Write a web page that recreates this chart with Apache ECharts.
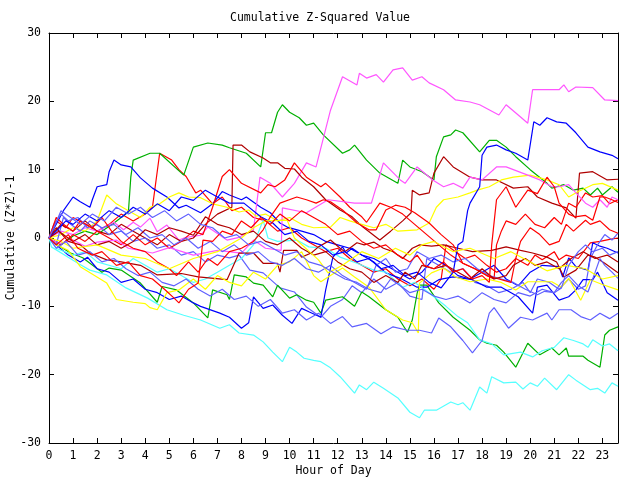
<!DOCTYPE html>
<html><head><meta charset="utf-8">
<script src="https://cdn.jsdelivr.net/npm/echarts@6/dist/echarts.min.js"></script>
<style>html,body{margin:0;padding:0;background:#fff}#c{width:640px;height:480px}</style>
</head><body><div id="c"></div>
<script>
// Axis ranges / ticks
const xMin = 0, xMax = 23.65, xStep = 1;
const yMin = -30, yMax = 30, yStep = 10;

// Series: [hour, cumulative value]
const magA = [[0,0],[0.5,1],[1,0.5],[1.5,1.5],[2,1],[2.7,2.3],[3.1,1.2],[3.5,2.3],[3.8,1.6],[4.2,2.9],[4.5,0.9],[4.9,1.9],[5.4,-0.3],[5.7,0.1],[6.3,0.4],[6.6,1.6],[7.4,-0.3],[7.9,0.1],[8.5,1.2],[8.77,8.9],[9.2,8],[9.7,6],[10.2,8],[10.7,11],[11.1,10.4],[11.7,18.7],[12.2,23.6],[12.8,22.4],[12.9,24.1],[13.2,23.4],[13.6,23.9],[13.9,22.8],[14.3,24.6],[14.7,24.9],[15.1,23.1],[15.5,23.6],[15.8,22.7],[16.4,21.7],[16.9,20.2],[17.5,19.9],[17.9,19.5],[18.7,18],[19,19.5],[19.6,17.7],[19.9,16.8],[20.1,21.7],[21.2,21.7],[21.4,22.4],[21.6,21.4],[21.9,22.1],[22.6,22],[23.1,20.2],[23.65,20.1]];
const magB = [[0,0],[0.4,-0.8],[1,-0.3],[1.5,-1.2],[2,-0.6],[2.8,-0.3],[3.3,-1.5],[4.3,-2.2],[5,-1.4],[6,-2.5],[7,-1.8],[8,-2.2],[8.5,-0.3],[9,-1.5],[9.65,-1.8],[9.7,4.4],[10.7,3.7],[11.6,5.6],[12.7,5.1],[13.4,5.1],[13.9,11],[14.6,8.5],[14.8,8],[15.3,10.4],[15.95,8.5],[16.4,7.5],[16.8,8],[17.2,7.3],[17.5,8.9],[18,8.5],[18.6,10.4],[19,10.4],[19.9,9.2],[20.4,8.5],[20.9,7.5],[21.2,7.5],[21.6,7.8],[21.9,6.6],[22.3,5.1],[22.6,4.5],[22.9,5.6],[23.2,4.5],[23.4,6],[23.65,5.6]];
const grnC = [[0,0],[0.5,-1],[1,0.3],[1.5,1],[2,0.5],[2.7,2.2],[3.3,3.8],[3.4,8.9],[3.5,11.4],[4.2,12.4],[4.6,12.4],[5.6,9.2],[6.0,13.3],[6.6,13.9],[7.2,13.6],[7.5,13.2],[8.2,12.4],[8.8,10.4],[9.0,15.4],[9.25,15.4],[9.5,18.4],[9.7,19.5],[10,18.4],[10.4,17.6],[10.7,16.5],[11,16.8],[11.4,15.1],[12.2,12.4],[12.5,12.9],[12.7,13.6],[13.2,11.4],[13.75,9.5],[14.5,8],[14.7,11.4],[15,10.4],[15.5,9.7],[16,8.5],[16.1,11.9],[16.4,14.8],[16.7,15.1],[16.9,15.8],[17.2,15.4],[17.9,12.6],[18.3,14.3],[18.6,14.3],[19,13.3],[19.4,11.9],[20,10],[20.7,8],[20.9,7.3],[21.4,7.8],[21.8,7],[22.2,7.3],[22.5,6.3],[22.8,7.3],[23,6.3],[23.4,7.5],[23.65,6.7]];
const grnD = [[0,0],[0.2,-0.7],[0.9,-2.2],[1.4,-2.9],[2.2,-5],[2.5,-4.4],[3,-4.7],[3.8,-6.6],[4.5,-9.4],[4.7,-7.1],[5.3,-7.6],[6,-9.5],[6.6,-11.7],[6.8,-7.6],[7.4,-8.3],[7.5,-9],[7.7,-5.4],[8.2,-5.7],[8.5,-6.6],[8.9,-6.9],[9.3,-8.6],[9.5,-6.9],[10,-8.8],[10.3,-8.3],[10.7,-9.1],[11,-9.4],[11.3,-11],[11.5,-9.1],[12.2,-8.6],[12.7,-10],[13,-7.9],[13.3,-8.6],[14,-10.5],[14.5,-11.6],[14.9,-13.8],[15.1,-12],[15.3,-8.1],[15.4,-6.9],[15.7,-6.9],[16.2,-9.5],[16.8,-11.6],[17.5,-13.5],[17.9,-14.9],[18.2,-15.4],[18.6,-15.7],[18.9,-16.7],[19.4,-18.9],[19.9,-15.4],[20.4,-17.1],[20.9,-16.1],[21.2,-17.1],[21.5,-16.1],[21.6,-17.3],[22.2,-17.3],[22.4,-17.9],[22.9,-18.9],[23.1,-14.2],[23.3,-13.5],[23.65,-13]];
const cyanE = [[0,0],[0.1,-1.3],[1.2,-3.7],[1.7,-4.7],[2.4,-5.4],[3.2,-7.3],[4.1,-8.8],[4.9,-10.5],[5.6,-11.3],[6.3,-12],[7.1,-13.2],[7.5,-12.7],[7.9,-13.9],[8.5,-14.2],[8.9,-15.2],[9.3,-16.7],[9.7,-18.1],[10,-16],[10.3,-16.7],[10.6,-17.6],[11,-17.9],[11.3,-18.1],[11.7,-19],[12.1,-20.3],[12.7,-22.7],[12.9,-21.5],[13.2,-22.2],[13.5,-21.1],[13.9,-22],[14.5,-23.4],[15,-25.5],[15.4,-26.3],[15.6,-25.2],[16.1,-25.2],[16.7,-24],[17,-24.4],[17.2,-24.1],[17.5,-25.2],[17.9,-21.8],[18.2,-22.7],[18.4,-20.3],[18.9,-21.2],[19.4,-21.1],[19.7,-22.1],[20,-21.2],[20.3,-21.7],[20.6,-20.5],[21.1,-22.2],[21.6,-20],[21.9,-20.8],[22.5,-22.2],[22.8,-22],[23.1,-22.7],[23.4,-21.2],[23.65,-21.7]];
const cyanB = [[0,0],[0.3,-1.5],[1,-2.5],[1.5,-2],[2,-3.5],[3,-4.5],[3.5,-3],[4,-4],[4.5,-5],[5,-4.5],[5.5,-5.5],[6,-6.5],[6.5,-6],[7,-5],[7.5,-4],[8,-3],[8.5,-1],[8.9,2.6],[9.1,0],[9.5,-0.5],[10.3,-0.3],[10.8,-1.3],[11.5,-1.5],[12.1,-2.8],[12.8,-3.7],[13.5,-4.7],[14,-5],[14.7,-7.2],[15.2,-6.5],[15.6,-7.5],[16,-8.6],[16.5,-10],[17,-11.5],[17.4,-12.4],[17.9,-14.9],[18.4,-15.5],[18.9,-17.1],[19.6,-16.7],[20.1,-17.4],[20.5,-16.5],[21,-16],[21.4,-14.6],[21.8,-15],[22.2,-15.5],[22.4,-16],[22.6,-14.9],[23,-15.8],[23.3,-15.5],[23.65,-16.5]];
const blueF = [[0,0],[0.3,1],[0.7,2.5],[1,2],[1.5,3.5],[2,2.5],[2.5,4],[3,3],[3.5,4.5],[4,3.5],[4.5,5],[5,4],[5.5,6],[6,5.5],[6.5,7],[7,6],[7.5,5.1],[8.1,5.1],[8.8,3.1],[9.3,2.2],[9.8,0.5],[10.3,1],[10.8,-0.5],[11.3,-1],[11.8,-2.5],[12.3,-2],[12.8,-3.5],[13.3,-3],[13.8,-4.5],[14.3,-4],[14.8,-5.5],[15.3,-5],[15.8,-6.5],[16.3,-7.3],[16.8,-5],[17,-1],[17.2,-0.5],[17.4,4],[17.5,5.1],[17.9,7.5],[18,12.1],[18.2,13.3],[18.6,13.6],[19,12.9],[19.4,12.4],[19.9,11.4],[20.15,17],[20.4,16.5],[20.7,17.6],[21.1,17],[21.5,16.8],[21.9,15.4],[22.4,13.3],[22.9,12.6],[23.4,12.1],[23.65,11.6]];
const blueK = [[0,0],[0.3,2],[0.6,4],[1,6],[1.3,5.3],[1.7,4.5],[1.8,5.6],[2,7.5],[2.4,7.8],[2.5,9.7],[2.7,11.4],[3,10.7],[3.4,10.4],[3.8,8.8],[4.3,7.3],[4.9,6],[5.4,4.4],[5.7,4.8],[6.3,3.7],[6.8,5],[7.2,6.8],[7.5,6.3],[8,5.6],[8.2,6],[8.8,4.5],[9.2,3.7],[9.6,2.2],[9.9,1.6],[10.5,1],[11,0.5],[11.5,-0.5],[12,-1],[12.5,-1.5],[13,-2.5],[13.5,-3],[14,-4],[14.5,-5],[15,-6],[15.5,-5],[16,-3],[16.5,-4],[17,-5.5],[17.5,-6],[18,-5],[18.5,-4],[19,-6],[19.5,-7],[20,-5],[20.5,-4],[21.2,-4.2],[21.35,-5.7],[21.6,-2.9],[21.9,-4.2],[22.4,-4.7],[22.6,-0.7],[22.9,-1.2],[23.2,-1.5],[23.65,-2.2]];
const blueJ = [[0,0],[0.3,-1],[0.8,-2.5],[1.3,-3.5],[1.6,-2.8],[2,-4.5],[2.5,-5],[3,-6.5],[3.5,-6],[4,-7.5],[4.5,-8],[5,-9],[5.5,-8.5],[6,-9.5],[6.3,-10],[7.1,-11],[7.5,-11.6],[8,-13.2],[8.3,-12.4],[8.5,-8.6],[8.9,-10.3],[9.3,-9.8],[9.7,-11.3],[10.1,-12.5],[10.5,-10.3],[10.8,-10.8],[11.3,-11.6],[11.5,-7.6],[11.7,-4.4],[11.8,-2.8],[12.2,-1.3],[12.35,-2.2],[12.6,-1.5],[13,-2.5],[13.5,-3.5],[14,-5.1],[14.6,-5.9],[15.3,-7.2],[15.7,-7.2],[16.2,-6.1],[16.8,-5.7],[17.6,-6.1],[18.2,-7.2],[18.8,-7.2],[19.5,-8.6],[20.1,-11],[20.3,-7.2],[20.7,-6.9],[21.2,-9.1],[21.6,-8.6],[21.9,-7.6],[22.2,-6.1],[22.6,-6.1],[22.8,-5],[23.2,-8],[23.65,-9.1]];
const lbA = [[0,0],[0.2,2],[0.5,3.5],[0.8,2.5],[1.2,3],[1.6,1.5],[2,2],[2.5,0.5],[3,1],[3.5,-0.5],[4,0],[4.5,-1.5],[5,-1],[5.5,-2.5],[6,-2],[6.5,-3.5],[7,-2.5],[7.5,-2.9],[7.9,-2.5],[8.35,-4.7],[8.9,-5.1],[9.6,-7.3],[10.2,-7.9],[10.7,-10.1],[11.3,-11.6],[11.7,-10],[12.2,-9],[12.6,-7],[13,-8],[13.5,-6],[14,-7.5],[14.5,-6.5],[15,-8.5],[15.5,-9],[15.7,-3],[16.2,-4],[16.7,-5],[17.2,-4.5],[17.7,-6.5],[18.2,-7],[18.7,-8],[19.2,-7.5],[19.7,-6.5],[20,-8],[20.3,-6],[20.8,-6.5],[21.2,-7.5],[21.6,-6],[22,-7.5],[22.3,-7],[22.5,-3],[22.8,-1],[23.1,0.5],[23.4,-0.3],[23.65,0.7]];
const lbB = [[0,0],[0.3,-1],[0.6,3],[0.9,2],[1.3,1],[1.7,2.5],[2.2,1.5],[2.7,2],[3.2,0.5],[3.7,1.5],[4.2,0],[4.7,0.5],[5.2,-1],[5.7,0],[6.2,-1.5],[6.7,-0.5],[7.2,-2],[7.7,-1],[8.2,-2.5],[8.7,-2],[9.2,-3.5],[9.7,-4],[10.2,-3],[10.7,-4.5],[11.2,-5],[11.7,-4],[12.2,-5.5],[12.7,-6.5],[13.2,-7.5],[13.6,-4],[14,-3],[14.4,-5],[14.9,-4.5],[15.3,-2],[15.8,-3],[16.3,-2.5],[16.8,-3.5],[17.3,-3],[17.8,-4.5],[18.3,-5.5],[18.8,-6],[19.3,-6.5],[19.8,-7.5],[20.3,-8.3],[20.6,-7.8],[21,-8],[21.3,-6.5],[21.6,-5.5],[22,-7],[22.4,-7.9],[22.7,-5],[22.9,-3],[23.1,-4],[23.4,-5],[23.65,-5.9]];
const lbC = [[0,0],[0.3,-1.5],[0.7,-0.5],[1.2,-2.5],[1.7,-2],[2.2,-3.5],[2.7,-3],[3.2,-4.5],[3.7,-5.5],[4.2,-5],[4.7,-6.5],[5.2,-7],[5.7,-6],[6.2,-7.5],[6.7,-8.5],[7.2,-7.5],[7.7,-9],[8.2,-8.5],[8.7,-10],[9.2,-9],[9.7,-11],[10.2,-10.5],[10.7,-12],[11.2,-11],[11.7,-12.5],[12.2,-11.5],[12.6,-13],[13.2,-12.5],[13.8,-14],[14.3,-13],[14.9,-13.5],[15.4,-13.5],[15.9,-13.9],[16.2,-11.7],[16.7,-13],[17.2,-15],[17.6,-16.8],[18,-15],[18.3,-11],[18.5,-10.2],[19.1,-13.2],[19.6,-11.6],[20.1,-12],[20.7,-11],[20.9,-12],[21.2,-10.5],[21.7,-10.5],[22.1,-11.5],[22.5,-12],[22.9,-11],[23.3,-11.8],[23.65,-11]];
const lbD = [[0,0],[0.2,1.5],[0.5,4],[0.9,3],[1.3,2],[1.8,3.5],[2.3,2.5],[2.8,4.5],[3.3,3.5],[3.8,4.5],[4.3,3],[4.8,4],[5.3,2.5],[5.8,3.5],[6.3,2],[6.8,1.5],[7.3,0],[7.8,0.5],[8.3,-1],[8.8,-0.5],[9.3,-1.5],[9.8,-2.5],[10.3,-2],[10.8,-3.5],[11.3,-4],[11.8,-5],[12.3,-6],[12.8,-6.5],[13.3,-7.5],[13.8,-8],[14.2,-6],[14.6,-7],[15,-8],[15.5,-7.5],[16,-8.5],[16.5,-9],[17,-8.5],[17.5,-9.5],[18,-8],[18.5,-9],[19,-9.5],[19.5,-8],[20,-8.5],[20.5,-7.5],[21,-8],[21.3,-7.3],[21.6,-4],[22,-2],[22.3,-1],[22.6,-2],[23,-1.5],[23.3,-2.5],[23.65,-2]];
const yelA = [[0,0],[0.5,0.5],[1,1.5],[1.5,1],[2,2.5],[2.4,6.3],[2.8,5],[3.3,4],[3.8,3],[4.2,4.5],[4.6,5],[5,6],[5.4,6.6],[5.8,6],[6.3,5.9],[6.8,5],[7.4,4.5],[7.9,3.8],[8.3,4.1],[8.6,3.2],[9,3.5],[9.5,2.5],[10,3],[10.5,2],[11,1.5],[11.7,1.6],[12.1,3],[12.5,2.5],[13,2],[13.5,1.5],[14,2],[14.5,1],[15.3,1.2],[15.8,2.2],[16.1,4.5],[16.4,5.6],[17,6],[17.5,6.6],[17.8,7],[18.3,7.5],[18.8,8.5],[19.3,8.9],[20,9.2],[20.7,8.5],[21.2,7.8],[21.6,6],[22,6.8],[22.6,7.8],[23,8],[23.65,7]];
const yelB = [[0,0],[0.3,-1],[0.8,-1.8],[1.3,-4.2],[2.4,-6.6],[2.8,-9],[3.5,-9.4],[4,-9.6],[4.2,-10.2],[4.5,-10.5],[4.9,-8],[5.4,-7.6],[6,-6],[6.5,-7.5],[7,-5.5],[7.5,-6.5],[8,-7],[8.5,-5],[9,-6],[9.5,-4],[10,-3.5],[10.5,-2],[11,-5.5],[11.3,-6.4],[11.7,-5.5],[12.2,-4.4],[12.7,-5.7],[13.3,-7.2],[14,-10.5],[14.7,-12],[15.1,-12.4],[15.35,-13.9],[15.4,-6.6],[15.9,-5.1],[16.4,-4.4],[16.9,-5.7],[17.5,-6.4],[18.2,-6],[18.8,-6.5],[19.4,-7.6],[19.9,-6.4],[20.9,-6.4],[21.3,-7.2],[21.6,-5.9],[22.1,-9.1],[22.5,-6.1],[23,-6.8],[23.65,-7.6]];
const yelC = [[0,0],[0.5,-0.5],[1,-1.5],[2,-1],[3,-2.5],[4,-3],[5,-4.5],[6,-3],[7,-2],[8,0],[8.5,1.5],[9,2.5],[9.9,2.6],[10.2,0],[11.2,-3.2],[11.6,-5.1],[12.2,-4],[13,-2],[13.7,-3],[14.4,-1.5],[15,-2.5],[15.5,-1],[16,-0.5],[16.8,-2],[17.5,-1.5],[18.5,-3],[19.2,-2],[20,-3.5],[20.7,-4.8],[21.5,-4],[22.3,-4.5],[23,-6],[23.65,-5.5]];
const drG = [[0,0],[0.5,2],[1,1],[1.5,2.5],[2,1],[2.5,0.5],[3,2],[3.5,1],[4,0],[4.5,-1],[5,0.5],[5.5,-0.5],[6,0],[6.5,2],[7,3.5],[7.6,4.5],[7.65,13.6],[8,13.6],[8.35,12.6],[8.9,11.7],[9.2,11],[9.5,11],[9.8,10.2],[10.2,10.1],[10.5,8.9],[11,7.5],[11.5,5.6],[12.1,4.1],[12.6,3.1],[13.05,1.6],[13.75,-0.3],[14.2,1],[14.7,2.5],[15.05,3.7],[15.1,7],[15.4,6.3],[15.8,6.6],[16,9.5],[16.4,11.9],[16.8,10.4],[17.5,8.9],[18,8.5],[18.6,8.5],[19.3,7.3],[19.9,7.5],[20.3,6],[20.9,5.1],[21.5,4.4],[21.9,2.9],[22.05,9.5],[22.6,9.7],[23.2,8.5],[23.65,8.6]];
const drH = [[0,0],[0.3,1.5],[0.8,-0.5],[1.3,-1],[1.7,-2.2],[2.4,-3.2],[3,-3.5],[3.8,-4],[4.5,-5.4],[5.5,-5.2],[6.2,-5.7],[7.4,-6.1],[7.9,-2.2],[8.5,-2.2],[8.9,-3.7],[9.5,-3.7],[9.6,-5],[9.75,-1.8],[10.3,-1.8],[10.5,-2.8],[10.9,-2.2],[11.2,-1.3],[11.7,-0.3],[12.1,-1.5],[12.3,-2],[12.8,-0.7],[13.1,-1],[13.5,-0.6],[13.9,-1.5],[14.3,-2],[14.7,-3],[15.1,-1.5],[15.4,-1],[15.9,-1.2],[16.4,-1],[17,-1.5],[17.6,-2],[18.4,-1.8],[19,-1.3],[19.6,-1.8],[20.1,-2.2],[20.7,-2.8],[21.1,-3.5],[21.4,-5.7],[21.9,-4.7],[22.4,-2.5],[22.7,-2.8],[23.1,-3.7],[23.65,-5.1]];
const drM = [[0,0],[0.4,1],[1,-0.5],[1.5,0.5],[2,-1],[2.5,-0.5],[3,-1.5],[3.5,-0.5],[4,1.2],[4.5,0.5],[5,1.5],[5.5,1],[6,0.4],[6.5,3.1],[7,2],[7.5,1.5],[8,0.5],[8.5,1],[9,-0.5],[9.5,-1],[10,0],[10.5,-1.5],[11,-2.5],[11.5,-2],[12,-3.5],[12.5,-4.5],[13,-5],[13.5,-6.5],[14,-5.5],[14.5,-6.5],[14.8,-5],[15.2,-6],[15.5,-4],[16,-4.5],[16.5,-4],[17,-5],[17.5,-6],[18,-4.5],[18.5,-6],[19,-5.5],[19.3,-4],[19.8,-3],[20.2,-4],[20.7,-3.5],[21.2,-4.5],[21.7,-3],[22.2,-2],[22.7,-3],[23.2,-2.5],[23.65,-3.5]];
const redA = [[0,0],[0.3,2.5],[0.7,1.5],[1,3],[1.5,2],[2,1],[2.5,2],[3,3.5],[3.5,2.5],[4,3.5],[4.3,4.5],[4.6,12.4],[5.1,11.4],[5.4,10],[5.7,9],[6.1,6.6],[6.3,7],[6.8,5],[7.2,6],[7.6,4],[8,4.5],[8.5,3],[9,2.5],[9.5,1],[10,1.5],[10.5,0],[11,-1],[11.5,-2],[12,-1.5],[12.5,-3],[13,-4],[13.5,-5],[14,-4.5],[14.5,-6],[15,-7],[15.5,-6],[16,-7.5],[16.3,-6],[16.5,-1],[16.9,-2],[17.3,-3],[17.7,-2.5],[18.2,-4],[18.6,-5],[19,-4.5],[19.4,-3],[19.9,-4],[20.2,-2.5],[20.5,-3.2],[21,-2],[21.2,-3.2],[21.5,-2.5],[22,-3],[22.5,-0.7],[22.9,-0.5],[23.3,-0.2],[23.65,0]];
const redB = [[0,0],[0.5,-1],[1,0.5],[1.5,-0.5],[2,1],[2.5,0],[3,-1],[3.5,0.5],[4,-1],[4.5,0],[5,-1.5],[5.5,-0.5],[6,1],[6.4,0.5],[6.8,4.5],[7.2,9],[7.5,10],[8,8],[8.8,6.6],[8.9,7],[9.1,7.8],[9.4,7.5],[9.8,8.5],[10.2,11],[10.7,8.9],[11.3,7.5],[11.5,8],[12.1,6],[12.5,4.5],[13,3.1],[13.2,2.3],[13.75,5.1],[14.2,4.5],[14.7,3.5],[15.2,2],[15.7,0.5],[16.2,-1],[16.7,-2.5],[17.2,-3.7],[17.7,-4.5],[18.2,-5.5],[18.5,-6],[18.6,-1],[18.8,1],[19,2.5],[19.4,2],[19.8,3.5],[20.2,2],[20.6,1.5],[21,3],[21.3,2],[21.6,5.1],[21.9,4.5],[22.3,6.6],[22.6,6],[23,6.2],[23.3,5],[23.65,5.6]];
const redC = [[0,0],[0.3,3],[0.6,2],[1,1],[1.3,2.5],[1.8,1.5],[2.2,3],[2.6,1],[3,-0.5],[3.5,-1.5],[4,-2],[4.5,-3.5],[5,-4.5],[5.3,-5.5],[5.8,-3.5],[6.2,-5],[6.6,-3],[7,-4],[7.5,-2],[8,-1.5],[8.5,-0.5],[8.9,1.2],[9.2,3.1],[9.6,5.1],[10.3,6],[10.7,5.6],[11.1,5.1],[11.4,5.6],[11.7,5.3],[12.2,4.1],[12.8,2.2],[13.3,1.2],[13.6,1.2],[14,4.1],[14.4,4.8],[14.8,4.5],[15.2,3.7],[15.8,2.2],[16.3,0.5],[16.8,-1],[17.2,-3.7],[17.7,-4.5],[18.2,-5.5],[18.7,-6],[19.2,-6.5],[19.4,-3],[19.6,-0.5],[20,1.5],[20.4,0.5],[20.8,-1],[21.2,-0.5],[21.5,2],[21.8,1],[22.3,2.6],[22.5,2],[22.9,2.5],[23.3,1.2],[23.65,0.7]];
const redD = [[0,0],[0.3,-1],[0.8,0.5],[1.2,-1.5],[1.8,-2.5],[2.2,-2],[2.8,-4],[3.3,-3.5],[3.8,-5.5],[4.3,-6],[4.8,-7.5],[5.2,-8.8],[5.4,-9.5],[5.8,-7.5],[6.2,-6.6],[6.4,-0.3],[6.8,-0.5],[7.2,1],[7.6,0.5],[8,2.5],[8.4,1.5],[8.8,3],[9.2,2],[9.6,3.5],[10,2.5],[10.5,4],[11,3],[11.5,2],[12,0.5],[12.5,1],[13,-0.5],[13.5,-1.5],[14,-1],[14.5,-2.5],[15,-3.5],[15.3,-2.5],[15.6,-4],[16,-4.5],[16.4,-3.5],[16.8,-5],[17.2,-4.5],[17.6,-6],[18,-5.5],[18.3,-6.5],[18.4,-1],[18.6,5.6],[19,7.5],[19.4,4.5],[19.9,7],[20.3,6.5],[20.7,8.9],[21,7.5],[21.2,5.1],[21.6,3.5],[21.85,3.1],[22.3,3.3],[22.6,2.6],[22.9,6],[23.1,6],[23.4,5.6],[23.65,5.2]];

const seriesData = [redA, grnC, blueK, magA, cyanE, drG, yelA, lbA,
                    redB, grnD, blueJ, magB, cyanB, drH, yelB, lbB,
                    redC, blueF, drM, yelC, lbC, redD, lbD];
const seriesColors = ['#ff0000','#00b000','#0000ff','#ff55ff','#55ffff','#b00000','#ffff00','#6060ff',
                      '#ff0000','#00b000','#0000ff','#ff55ff','#55ffff','#b00000','#ffff00','#6060ff',
                      '#ff0000','#0000ff','#b00000','#ffff00','#6060ff','#ff0000','#6060ff'];

const FONT = 'DejaVu Sans Mono';
const chart = echarts.init(document.getElementById('c'), null, {renderer: 'canvas'});
const axisCommon = {
  axisLine: {show: true, onZero: false, lineStyle: {color: '#000', width: 1}},
  axisTick: {show: true, inside: true, length: 5, lineStyle: {color: '#000', width: 1}},
  splitLine: {show: false}
};
chart.setOption({
  animation: false,
  backgroundColor: '#fff',
  title: {text: 'Cumulative Z-Squared Value', left: 'center', top: 7,
          textStyle: {fontFamily: FONT, fontSize: 11.5, fontWeight: 'normal', color: '#000'}},
  grid: {left: 49, right: 22, top: 33, bottom: 37, containLabel: false, outerBoundsMode: 'none'},
  xAxis: [
    Object.assign({type: 'value', min: xMin, max: xMax, interval: xStep, position: 'bottom',
      name: 'Hour of Day', nameLocation: 'middle', nameGap: 22, nameMoveOverlap: false,
      nameTextStyle: {fontFamily: FONT, fontSize: 11.5, color: '#000'},
      axisLabel: {color: '#000', fontFamily: FONT, fontSize: 11.5, margin: 7, showMaxLabel: false,
        formatter: v => (Math.abs(v - Math.round(v)) < 1e-6 ? String(Math.round(v)) : '')}}, axisCommon),
    Object.assign({type: 'value', min: xMin, max: xMax, interval: xStep, position: 'top',
      axisLabel: {show: false}}, axisCommon)
  ],
  yAxis: [
    Object.assign({type: 'value', min: yMin, max: yMax, interval: yStep, position: 'left',
      name: 'Cumulative (Z*Z)-1', nameLocation: 'middle', nameGap: 32, nameRotate: 90, nameMoveOverlap: false,
      nameTextStyle: {fontFamily: FONT, fontSize: 11.5, color: '#000'},
      axisLabel: {color: '#000', fontFamily: FONT, fontSize: 11.5, margin: 8}}, axisCommon),
    Object.assign({type: 'value', min: yMin, max: yMax, interval: yStep, position: 'right',
      axisLabel: {show: false}}, axisCommon)
  ],
  series: seriesData.map((d, i) => ({
    type: 'line', data: d, xAxisIndex: 0, yAxisIndex: 0,
    symbol: 'none', showSymbol: false, silent: true,
    lineStyle: {color: seriesColors[i], width: 1.2}, itemStyle: {color: seriesColors[i]}
  }))
});
</script>
</body></html>
